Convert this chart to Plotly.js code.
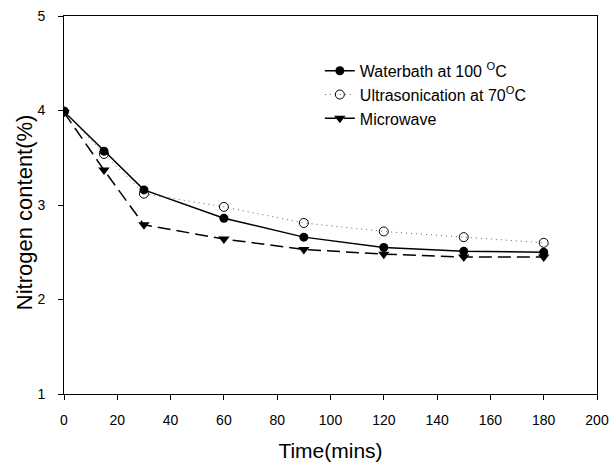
<!DOCTYPE html>
<html><head><meta charset="utf-8">
<script src="https://cdn.plot.ly/plotly-3.0.1.min.js"></script>
<style>body{margin:0;background:#fff}#c{width:609px;height:463px}</style>
</head><body><div id="c"></div>
<script>
const time = [0, 15, 30, 60, 90, 120, 150, 180];
const waterbath = [3.99, 3.57, 3.16, 2.86, 2.66, 2.55, 2.51, 2.50];
const ultrasonication = [3.99, 3.54, 3.12, 2.98, 2.81, 2.72, 2.66, 2.60];
const microwave = [3.98, 3.37, 2.79, 2.64, 2.53, 2.48, 2.45, 2.45];
const names = ["Waterbath at 100 <sup>O</sup>C", "Ultrasonication at 70<sup>O</sup>C", "Microwave"];
const xTicks = [0, 20, 40, 60, 80, 100, 120, 140, 160, 180, 200];
const yTicks = [1, 2, 3, 4, 5];
const yTitle = 'Nitrogen content(%)';
const xTitle = 'Time(mins)';

const traces = [
  {x: time, y: waterbath, name: names[0], mode: 'lines+markers',
   line: {color: '#000', width: 1.5, dash: 'solid'},
   marker: {symbol: 'circle', size: 9, color: '#000'}},
  {x: time, y: ultrasonication, name: names[1], mode: 'lines+markers',
   line: {color: '#666', width: 1, dash: '1px,4px'},
   marker: {symbol: 'circle-open', size: 9, color: '#000', line: {width: 1}}},
  {x: time, y: microwave, name: names[2], mode: 'lines+markers',
   line: {color: '#000', width: 1.5, dash: '13px,6px'},
   marker: {symbol: 'triangle-down', size: 10, color: '#000'}}
];
const layout = {
  width: 609, height: 463,
  margin: {l: 64, r: 12, t: 16, b: 69},
  paper_bgcolor: '#fff', plot_bgcolor: '#fff',
  font: {family: 'Liberation Sans, Arial, sans-serif', color: '#000'},
  showlegend: true,
  legend: {x: 0.48, y: 0.9, xanchor: 'left', yanchor: 'top', bgcolor: 'rgba(0,0,0,0)',
           font: {size: 16}, tracegroupgap: 0, itemwidth: 30},
  xaxis: {range: [0, 200], tickvals: xTicks, ticks: 'outside', ticklen: 5, tickcolor: '#000',
          showline: true, linecolor: '#000', mirror: true, showgrid: false, zeroline: false,
          ticklabelstandoff: 8, ticklabeloverflow: 'allow',
          tickfont: {size: 14}, title: {text: xTitle, font: {size: 21}, standoff: 16}},
  yaxis: {range: [1, 5], tickvals: yTicks, ticks: 'outside', ticklen: 5, tickcolor: '#000',
          showline: true, linecolor: '#000', mirror: true, showgrid: false, zeroline: false,
          ticklabelstandoff: 10, ticklabeloverflow: 'allow',
          tickfont: {size: 14}},
  annotations: [{text: yTitle, textangle: -90, showarrow: false, xref: 'paper', yref: 'paper',
                 x: -0.075, y: 0.481, xanchor: 'center', yanchor: 'middle', font: {size: 22}}]
};
Plotly.newPlot('c', traces, layout, {displayModeBar: false});
</script></body></html>
